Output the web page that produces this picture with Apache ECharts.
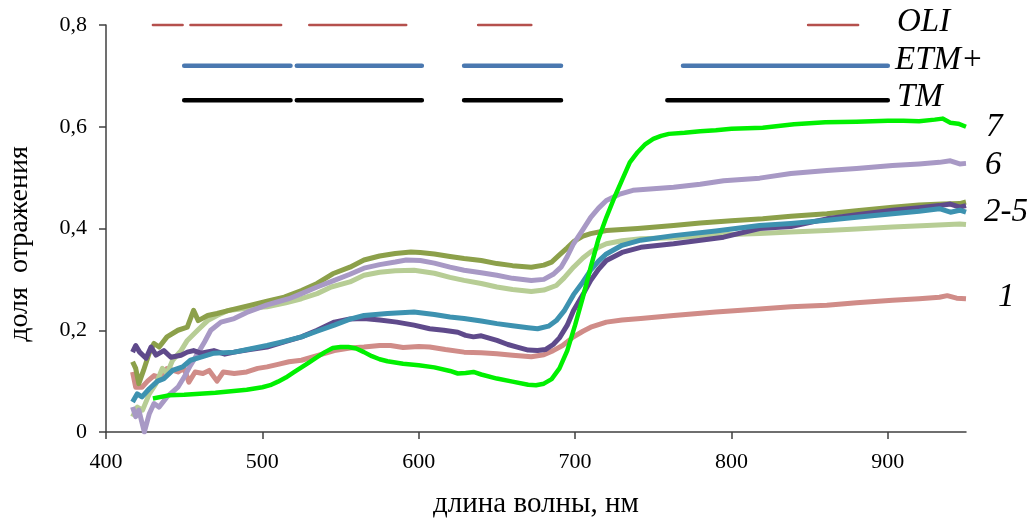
<!DOCTYPE html>
<html>
<head>
<meta charset="utf-8">
<script src="https://cdn.jsdelivr.net/npm/echarts@6/dist/echarts.min.js"></script>
<style>
  html, body { margin: 0; padding: 0; background: #fff; }
  #chart { width: 1032px; height: 518px; }
</style>
</head>
<body>
<div id="chart"></div>
<script>
// спектры отражения, [нм, доля]
const curve1 = [[417,0.118],[419,0.088],[423,0.088],[426.6,0.1],[430.7,0.111],[434,0.108],[439,0.125],[446,0.118],[450,0.125],[453,0.098],[457,0.118],[462,0.115],[466,0.121],[471,0.1],[475,0.118],[482,0.115],[490,0.118],[497,0.125],[503,0.128],[510,0.133],[517,0.138],[525,0.141],[535,0.15],[546,0.16],[556,0.165],[565,0.167],[575,0.17],[582,0.17],[590,0.166],[600,0.168],[607,0.167],[617,0.162],[629,0.157],[640,0.156],[650,0.154],[660,0.151],[672,0.148],[680,0.152],[686,0.16],[692,0.17],[699,0.187],[705,0.198],[710,0.206],[720,0.216],[730,0.22],[742,0.223],[763,0.229],[790,0.236],[818,0.242],[838,0.246],[861,0.249],[880,0.254],[903,0.259],[920,0.262],[933,0.265],[938,0.268],[944,0.263],[950,0.262]];
const curve2 = [[417,0.138],[419,0.125],[421,0.095],[424,0.121],[427.5,0.154],[430.7,0.174],[434,0.167],[439,0.187],[446,0.2],[452,0.206],[456,0.239],[459,0.219],[465,0.229],[471,0.233],[480,0.24],[492,0.249],[503,0.257],[514,0.265],[525,0.278],[535,0.292],[545,0.311],[556,0.324],[565,0.338],[575,0.346],[585,0.351],[595,0.354],[601,0.353],[610,0.35],[620,0.345],[629,0.341],[640,0.337],[650,0.331],[660,0.327],[672,0.324],[680,0.328],[685,0.334],[690,0.348],[695,0.362],[699,0.374],[705,0.385],[710,0.39],[720,0.396],[740,0.4],[763,0.406],[780,0.411],[800,0.415],[820,0.419],[838,0.424],[861,0.429],[880,0.435],[903,0.442],[920,0.446],[935,0.448],[946,0.449],[950,0.452]];
const curve3 = [[417,0.03],[420,0.049],[423.4,0.043],[427.7,0.075],[432,0.095],[436,0.125],[439,0.115],[442.6,0.141],[448,0.16],[452,0.18],[458.6,0.2],[465,0.219],[471,0.229],[478,0.239],[490,0.243],[503,0.246],[515,0.254],[525,0.262],[535,0.272],[544,0.285],[556,0.295],[565,0.308],[575,0.314],[585,0.317],[597,0.318],[610,0.312],[620,0.304],[629,0.298],[640,0.292],[650,0.285],[660,0.28],[672,0.276],[680,0.279],[688,0.288],[693,0.303],[699,0.324],[705,0.342],[710,0.354],[715,0.363],[720,0.37],[730,0.376],[742,0.38],[763,0.382],[790,0.387],[818,0.39],[838,0.393],[861,0.396],[880,0.399],[903,0.403],[925,0.406],[946,0.409],[950,0.408]];
const curve4 = [[417,0.059],[420,0.075],[423,0.069],[427.7,0.085],[433,0.1],[437,0.105],[442.6,0.121],[449,0.128],[454,0.141],[460.7,0.147],[469,0.155],[482,0.157],[492,0.163],[503,0.17],[514,0.178],[525,0.187],[535,0.198],[546,0.21],[556,0.222],[565,0.229],[580,0.233],[597,0.236],[610,0.231],[620,0.226],[629,0.223],[640,0.218],[650,0.213],[660,0.209],[670,0.205],[676,0.203],[683,0.208],[688,0.219],[693,0.238],[699,0.27],[705,0.295],[710,0.318],[715,0.336],[720,0.35],[730,0.367],[742,0.377],[763,0.386],[790,0.395],[818,0.406],[838,0.41],[861,0.416],[880,0.422],[903,0.429],[920,0.434],[933,0.439],[940,0.432],[946,0.436],[950,0.432]];
const curve5 = [[417,0.157],[419,0.17],[421.5,0.157],[425.6,0.145],[428.8,0.167],[432,0.151],[437,0.16],[441.5,0.147],[448,0.151],[452,0.157],[456,0.16],[460.7,0.155],[469,0.16],[476,0.153],[482,0.157],[492,0.162],[503,0.167],[514,0.177],[525,0.187],[535,0.2],[546,0.216],[556,0.222],[565,0.223],[575,0.22],[586,0.216],[597,0.21],[607,0.203],[616,0.2],[625,0.196],[630,0.19],[635,0.187],[640,0.189],[650,0.18],[657,0.172],[663,0.167],[670,0.161],[676,0.16],[681,0.162],[686,0.172],[690,0.185],[695,0.21],[699,0.239],[705,0.27],[710,0.298],[715,0.32],[720,0.337],[730,0.353],[742,0.363],[763,0.37],[795,0.383],[818,0.4],[838,0.404],[861,0.419],[880,0.427],[903,0.436],[920,0.441],[933,0.445],[940,0.448],[946,0.442],[950,0.445]];
const curve6 = [[417,0.049],[419,0.03],[421,0.043],[424.5,0.0],[427.7,0.036],[430.7,0.056],[434,0.049],[439,0.069],[446,0.088],[450,0.108],[454,0.131],[458.6,0.154],[463,0.177],[467,0.2],[473.5,0.216],[482,0.223],[490,0.235],[497,0.243],[503,0.25],[510,0.256],[517,0.262],[525,0.272],[535,0.285],[546,0.298],[556,0.31],[565,0.322],[575,0.329],[585,0.334],[592,0.338],[601,0.337],[610,0.332],[620,0.324],[629,0.318],[640,0.313],[650,0.308],[660,0.302],[672,0.298],[680,0.3],[686,0.31],[691,0.324],[695,0.345],[699,0.37],[705,0.398],[710,0.422],[715,0.44],[720,0.455],[728,0.467],[737,0.475],[750,0.478],[763,0.481],[780,0.487],[795,0.494],[818,0.499],[838,0.508],[861,0.514],[880,0.518],[903,0.524],[920,0.527],[933,0.53],[940,0.533],[946,0.527],[950,0.528]];
const curve7 = [[430,0.066],[440,0.072],[450,0.073],[460,0.075],[470,0.077],[480,0.08],[490,0.083],[500,0.088],[505,0.092],[510,0.099],[515,0.107],[520,0.117],[525,0.127],[530,0.137],[535,0.147],[540,0.157],[545,0.165],[550,0.167],[555,0.167],[560,0.164],[565,0.157],[570,0.149],[575,0.143],[580,0.139],[590,0.134],[600,0.131],[610,0.127],[620,0.12],[625,0.115],[630,0.116],[635,0.118],[640,0.113],[650,0.105],[660,0.099],[670,0.093],[675,0.092],[680,0.095],[685,0.104],[690,0.125],[695,0.16],[700,0.21],[705,0.265],[710,0.324],[715,0.38],[720,0.422],[725,0.46],[730,0.495],[735,0.53],[740,0.55],[745,0.566],[750,0.576],[755,0.582],[760,0.586],[770,0.588],[780,0.591],[790,0.593],[800,0.596],[820,0.598],[840,0.605],[860,0.609],[880,0.61],[900,0.612],[910,0.612],[920,0.611],[930,0.614],[935,0.616],[940,0.608],[945,0.606],[950,0.6]];

// спектральные каналы сенсоров, [начало, конец] нм
const oliBands = [[430,449],[454,512],[530,592],[638,672],[849,881]];
const etmBands = [[450,518],[522,602],[629,691],[769,900]];
const tmBands = [[450,518],[522,602],[629,691],[759,900]];
const oliLevel = 0.8, etmLevel = 0.72, tmLevel = 0.652;

const xTicks = [400, 500, 600, 700, 800, 900];

function bandData(bands, level) {
  const out = [];
  bands.forEach(b => {
    out.push([b[0], level], [b[1], level], [b[1] + 0.5, '-']);
  });
  return out;
}

function curve(data, color, width) {
  return {
    type: 'line', data: data, symbol: 'none', silent: true,
    lineStyle: { color: color, width: width || 5, join: 'round' }
  };
}

function band(data, color, width) {
  return {
    type: 'line', data: data, symbol: 'none', silent: true, clip: false,
    connectNulls: false,
    lineStyle: { color: color, width: width, cap: 'round' }
  };
}

const serif = '"Liberation Serif", "DejaVu Serif", serif';
const chart = echarts.init(document.getElementById('chart'));

// подписи справа (сенсоры и номера кривых)
function lbl(text, x, y) {
  return {
    type: 'text', x: x, y: y,
    style: { text: text, font: 'italic 33px ' + serif, fill: '#000', textVerticalAlign: 'middle' }
  };
}

chart.setOption({
  animation: false,
  grid: { left: 106, right: 66, top: 25, bottom: 86, outerBoundsMode: 'none' },
  xAxis: {
    type: 'value', min: 400, max: 950, interval: 100,
    name: 'длина волны, нм', nameLocation: 'middle', nameGap: 58,
    nameTextStyle: { fontFamily: serif, fontSize: 29, color: '#000' },
    axisLine: { lineStyle: { color: '#404040', width: 1.5 } },
    axisTick: { customValues: xTicks, length: 7, lineStyle: { color: '#404040', width: 1.5 } },
    axisLabel: { customValues: xTicks, margin: 19, fontFamily: serif, fontSize: 22, color: '#000' },
    splitLine: { show: false }
  },
  yAxis: {
    type: 'value', min: 0, max: 0.8, interval: 0.2,
    axisLine: { show: true, lineStyle: { color: '#404040', width: 1.5 } },
    axisTick: { show: true, length: 7, lineStyle: { color: '#404040', width: 1.5 } },
    axisLabel: {
      margin: 19, fontFamily: serif, fontSize: 22, color: '#000',
      formatter: v => String(Math.round(v * 10) / 10).replace('.', ',')
    },
    splitLine: { show: false }
  },
  series: [
    curve(curve1, '#d08c88'),
    curve(curve3, '#b7cd95'),
    curve(curve2, '#8ca04a'),
    curve(curve6, '#a899c5'),
    curve(curve5, '#5f4a8b'),
    curve(curve4, '#3d92b0'),
    curve(curve7, '#00f000', 4.5),
    band(bandData(oliBands, oliLevel), '#b5504d', 2.5),
    band(bandData(etmBands, etmLevel), '#4a78b0', 4.5),
    band(bandData(tmBands, tmLevel), '#000000', 4.5)
  ],
  graphic: [
    {
      type: 'text', x: 20, y: 244, rotation: Math.PI / 2,
      style: { text: 'доля  отражения', font: '28px ' + serif, fill: '#000', textAlign: 'center', textVerticalAlign: 'middle' }
    },
    lbl('OLI', 897, 22),
    lbl('ETM+', 895, 60),
    lbl('TM', 897, 97),
    lbl('7', 986, 127),
    lbl('6', 985, 165),
    lbl('2-5', 984, 212),
    lbl('1', 998, 297)
  ]
});
</script>
</body>
</html>
